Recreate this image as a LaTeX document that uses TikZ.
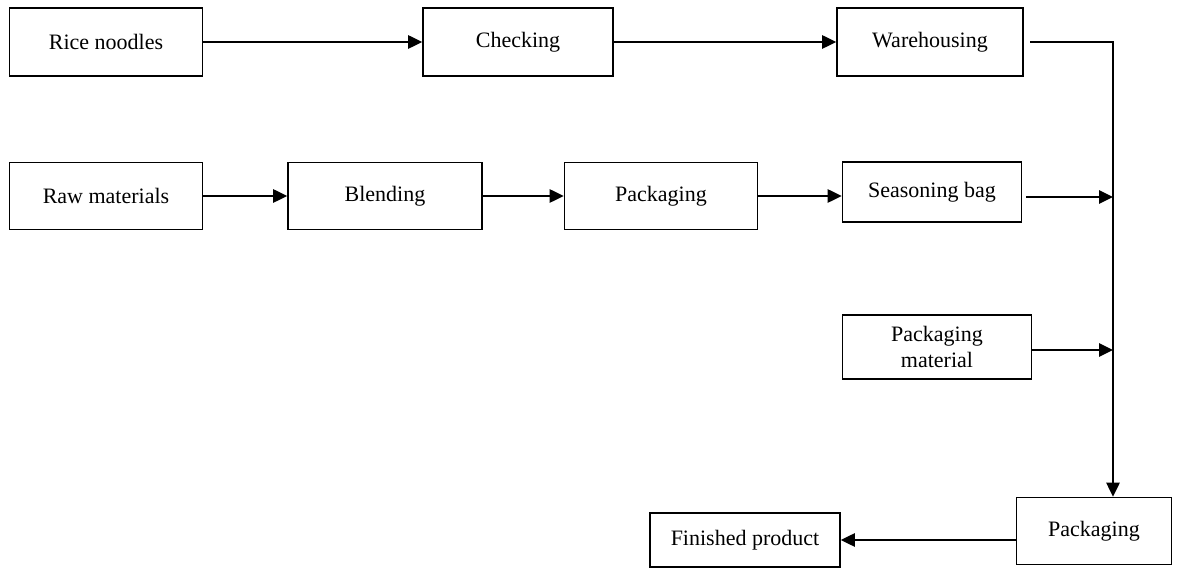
\documentclass[tikz,border=0pt]{standalone}
\usepackage{fontspec}
\setmainfont{Liberation Serif}
\usetikzlibrary{arrows.meta}

\begin{document}
\begin{tikzpicture}[x=0.75pt, y=-0.75pt, >={Triangle[length=10.5pt, width=10pt]}]
      \tikzset{
	  process/.style={rectangle, draw=black, line width=1.2pt, fill=white, inner sep=0pt, align=center, font=\fontsize{16.5}{19}\selectfont},
	  flow/.style={line width=1.2pt, ->}
      }

      \useasboundingbox (0,0) rectangle (1183,570);

      % top row
      \node[process, minimum width=193pt*0.75, minimum height=68pt*0.75] (rice) at (106,42) {Rice noodles};
      \node[process, minimum width=190pt*0.75, minimum height=68pt*0.75] (check) at (518,42) {Checking};
      \node[process, minimum width=186pt*0.75, minimum height=68pt*0.75] (ware) at (930,42) {Warehousing};

      % second row
      \node[process, minimum width=193pt*0.75, minimum height=67pt*0.75] (raw) at (106,196) {Raw materials};
      \node[process, minimum width=194pt*0.75, minimum height=67pt*0.75] (blend) at (385,196) {Blending};
      \node[process, minimum width=193pt*0.75, minimum height=67pt*0.75] (pack) at (661,196) {Packaging};
      \node[process, minimum width=179pt*0.75, minimum height=60pt*0.75] (bag) at (932,192) {Seasoning bag};

      \node[process, minimum width=189pt*0.75, minimum height=64pt*0.75] (mat) at (937,347) {Packaging\\material};

      % bottom
      \node[process, minimum width=155pt*0.75, minimum height=67pt*0.75] (final) at (1094,531) {Packaging};
      \node[process, minimum width=190pt*0.75, minimum height=54pt*0.75] (done) at (745,540) {Finished product};

      \coordinate (turn) at (1113,42);
      \coordinate (j1) at (1113,197);
      \coordinate (j2) at (1113,350);

      \draw[flow] (rice) -- (check);
      \draw[flow] (check) -- (ware);
      \draw[flow] (raw) -- (blend);
      \draw[flow] (blend) -- (pack);
      \draw[flow] (pack) -- (pack -| bag.west);
      \draw[flow] ([xshift=3pt]bag.east |- j1) -- (j1);
      \draw[flow] (mat.east |- j2) -- (j2);
      \draw[flow] ([xshift=5pt]ware.east) -- (turn) -- (turn |- final.north);
      \draw[flow] (final.west |- done) -- (done);
\end{tikzpicture}
\end{document}
